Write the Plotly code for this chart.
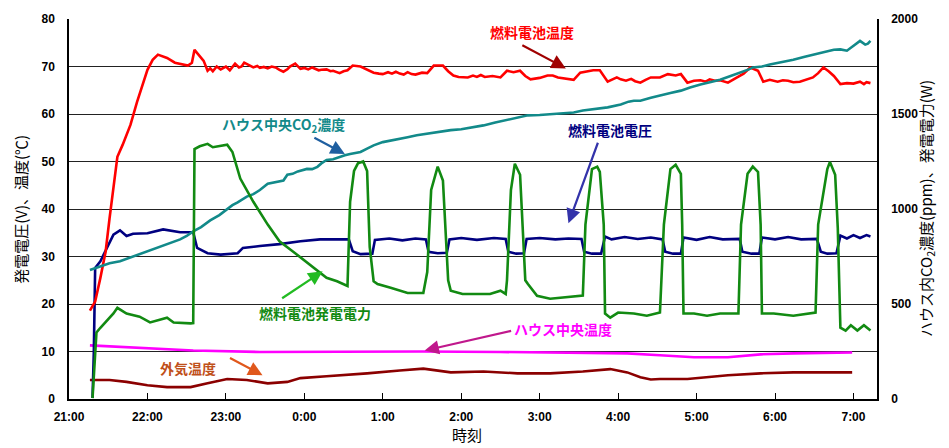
import plotly.graph_objects as go

# ---- measured data (clock time, value) ----
# Fuel-cell temperature (°C), left axis
fc_temp_t = ["21:16", "21:18", "21:20", "21:24", "21:28", "21:31", "21:34", "21:37", "21:41", "21:47",
             "21:52", "22:00", "22:04", "22:08", "22:15", "22:21", "22:31", "22:34", "22:36", "22:39",
             "22:43", "22:46", "22:48", "22:50", "22:53", "22:56", "23:00", "23:03", "23:07", "23:10",
             "23:12", "23:14", "23:17", "23:21", "23:24", "23:26", "23:29", "23:32", "23:35", "23:38",
             "23:41", "23:44", "23:47", "23:49", "23:53", "23:57", "0:00", "0:03", "0:06", "0:08",
             "0:11", "0:13", "0:17", "0:20", "0:22", "0:27", "0:30", "0:33", "0:37", "0:43",
             "0:48", "0:53", "0:57", "1:00", "1:04", "1:07", "1:10", "1:13", "1:16", "1:19",
             "1:22", "1:25", "1:30", "1:34", "1:39", "1:46", "1:50", "1:54", "1:58", "2:05",
             "2:09", "2:12", "2:15", "2:18", "2:24", "2:30", "2:35", "2:40", "2:45", "2:49",
             "2:53", "3:00", "3:06", "3:10", "3:14", "3:18", "3:26", "3:31", "3:36", "3:41",
             "3:46", "3:52", "3:59", "4:02", "4:06", "4:10", "4:13", "4:17", "4:21", "4:25",
             "4:32", "4:38", "4:44", "4:48", "4:53", "4:58", "5:03", "5:07", "5:10", "5:14",
             "5:18", "5:24", "5:31", "5:36", "5:41", "5:47", "5:51", "5:56", "6:02", "6:06",
             "6:10", "6:14", "6:19", "6:24", "6:29", "6:33", "6:37", "6:41", "6:45", "6:50",
             "6:55", "7:00", "7:05", "7:08", "7:10", "7:13"]
fc_temp_v = [18.6, 19.5, 20.5, 25.5, 31.0, 38.0, 45.0, 51.0, 53.5, 57.7,
             62.5, 69.3, 71.4, 72.5, 71.8, 70.8, 70.2, 70.8, 73.5, 72.4,
             71.2, 69.1, 69.6, 69.0, 70.0, 69.4, 70.0, 69.2, 70.6, 69.8,
             70.0, 70.8, 70.4, 69.8, 70.1, 69.7, 69.9, 69.6, 70.0, 69.8,
             69.3, 68.9, 69.4, 70.0, 70.6, 69.5, 69.7, 69.4, 69.8, 69.6,
             69.2, 69.3, 69.4, 69.0, 69.1, 68.6, 69.0, 69.2, 70.2, 70.0,
             69.3, 68.7, 68.5, 68.4, 68.8, 68.5, 68.9, 68.5, 68.3, 68.8,
             68.4, 68.3, 68.7, 68.6, 70.2, 70.2, 69.0, 68.1, 67.8, 67.7,
             68.1, 67.8, 68.2, 67.8, 68.0, 67.7, 69.1, 68.8, 69.1, 68.0,
             67.3, 67.6, 68.1, 68.1, 67.7, 67.5, 67.2, 68.7, 69.0, 69.2,
             69.2, 66.8, 67.7, 67.3, 67.0, 67.4, 66.9, 66.6, 67.2, 67.7,
             67.7, 68.4, 68.1, 68.4, 66.6, 67.0, 67.1, 66.8, 67.3, 67.0,
             67.1, 66.6, 67.7, 68.5, 69.8, 69.1, 66.8, 67.2, 66.8, 67.1,
             67.0, 66.7, 66.8, 67.3, 67.7, 68.6, 69.8, 69.0, 68.0, 66.3,
             66.5, 66.4, 66.8, 66.3, 66.7, 66.5]

# House-centre CO2 concentration (ppm), right axis
co2_t = ["21:16", "21:24", "21:31", "21:39", "21:47", "21:54", "22:02", "22:10", "22:18", "22:25",
         "22:30", "22:35", "22:41", "22:48", "22:55", "23:01", "23:05", "23:09", "23:16", "23:21",
         "23:26", "23:32", "23:38", "23:44", "23:47", "23:51", "23:55", "0:02", "0:06", "0:10",
         "0:13", "0:17", "0:22", "0:27", "0:31", "0:35", "0:43", "0:48", "0:53", "1:00",
         "1:05", "1:10", "1:14", "1:19", "1:26", "1:35", "1:44", "1:52", "2:00", "2:09",
         "2:17", "2:26", "2:35", "2:43", "2:51", "3:00", "3:06", "3:16", "3:26", "3:33",
         "3:41", "3:52", "4:02", "4:08", "4:12", "4:17", "4:25", "4:32", "4:40", "4:48",
         "4:55", "5:03", "5:10", "5:18", "5:26", "5:34", "5:40", "5:43", "5:50", "5:56",
         "6:05", "6:14", "6:22", "6:29", "6:37", "6:45", "6:50", "6:55", "7:00", "7:05",
         "7:09", "7:11", "7:13"]
co2_v = [679, 700, 715, 725, 745, 762, 785, 805, 822, 840,
         858, 882, 905, 940, 968, 1002, 1020, 1035, 1065, 1078,
         1100, 1133, 1140, 1150, 1180, 1185, 1198, 1211, 1210, 1222,
         1240, 1258, 1262, 1275, 1283, 1290, 1300, 1318, 1335, 1352,
         1358, 1365, 1372, 1378, 1388, 1398, 1405, 1415, 1420, 1430,
         1440, 1455, 1468, 1480, 1493, 1495, 1498, 1500, 1508, 1518,
         1525, 1535, 1550, 1565, 1570, 1570, 1585, 1598, 1610, 1623,
         1640, 1655, 1665, 1680, 1700, 1718, 1735, 1745, 1750, 1760,
         1772, 1785, 1800, 1813, 1825, 1838, 1840, 1833, 1860, 1885,
         1865, 1870, 1885]

# Fuel-cell voltage (V), left axis
fc_volt_t = ["21:18", "21:19", "21:20", "21:24", "21:29", "21:34", "21:39", "21:44", "21:49", "22:00",
             "22:12", "22:25", "22:35", "22:38", "22:46", "22:56", "23:09", "23:13", "23:26", "23:41",
             "23:57", "0:12", "0:25", "0:34", "0:37", "0:43", "0:52", "0:54", "1:05", "1:15",
             "1:25", "1:33", "1:35", "1:42", "1:49", "1:51", "2:00", "2:12", "2:25", "2:34",
             "2:36", "2:42", "2:48", "2:50", "3:00", "3:12", "3:22", "3:32", "3:34", "3:40",
             "3:47", "3:50", "3:55", "4:05", "4:15", "4:25", "4:34", "4:36", "4:42", "4:48",
             "4:50", "5:00", "5:10", "5:20", "5:33", "5:35", "5:42", "5:48", "5:50", "6:00",
             "6:10", "6:20", "6:32", "6:35", "6:40", "6:47", "6:50", "6:55", "7:00", "7:05",
             "7:10", "7:13"]
fc_volt_v = [0.2, 10.0, 27.6, 29.0, 31.8, 34.6, 35.5, 34.3, 34.8, 34.9,
             35.7, 35.1, 35.1, 31.8, 30.7, 30.4, 30.7, 31.8, 32.2, 32.6,
             33.2, 33.6, 33.6, 33.6, 31.1, 30.5, 30.6, 33.5, 33.8, 33.4,
             33.8, 33.6, 31.0, 30.7, 30.8, 33.6, 33.9, 33.5, 33.9, 33.7,
             31.0, 30.6, 30.7, 33.7, 33.9, 33.6, 33.8, 33.7, 31.0, 30.6,
             30.6, 34.2, 33.6, 34.1, 33.7, 34.0, 33.6, 31.0, 30.6, 30.6,
             34.0, 33.5, 34.1, 33.6, 33.7, 31.0, 30.6, 30.6, 34.0, 33.6,
             34.1, 33.6, 33.7, 31.0, 30.6, 30.7, 34.4, 33.8, 34.5, 33.9,
             34.5, 34.2]

# Fuel-cell output power (W), right axis
fc_power_t = ["21:18", "21:21", "21:24", "21:34", "21:37", "21:44", "21:54", "22:02", "22:15", "22:20",
              "22:33", "22:35", "22:36", "22:40", "22:46", "22:50", "23:01", "23:05", "23:11", "23:21",
              "23:32", "23:41", "23:51", "0:07", "0:17", "0:25", "0:33", "0:35", "0:38", "0:41",
              "0:45", "0:48", "0:50", "0:53", "0:56", "1:06", "1:19", "1:31", "1:34", "1:37",
              "1:42", "1:46", "1:50", "1:52", "2:01", "2:22", "2:30", "2:34", "2:35", "2:38",
              "2:41", "2:45", "2:49", "2:51", "2:58", "3:08", "3:20", "3:33", "3:35", "3:40",
              "3:44", "3:46", "3:49", "3:50", "3:54", "4:00", "4:12", "4:22", "4:32", "4:35",
              "4:40", "4:44", "4:48", "4:49", "4:50", "4:58", "5:08", "5:18", "5:32", "5:34",
              "5:39", "5:43", "5:47", "5:49", "5:50", "5:59", "6:14", "6:31", "6:33", "6:40",
              "6:42", "6:46", "6:48", "6:50", "6:54", "6:58", "7:03", "7:08", "7:13"]
fc_power_v = [5, 350, 375, 450, 480, 450, 433, 403, 428, 403,
              398, 400, 1315, 1330, 1343, 1325, 1338, 1300, 1160, 1038,
              918, 830, 778, 690, 638, 620, 595, 1038, 1200, 1240,
              1250, 1200, 800, 620, 605, 585, 558, 558, 668, 1100,
              1223, 1150, 625, 570, 553, 553, 570, 553, 625, 1100,
              1238, 1180, 625, 605, 543, 528, 535, 545, 918, 1210,
              1223, 1195, 918, 450, 428, 455, 450, 438, 455, 918,
              1210, 1233, 1185, 918, 450, 450, 438, 450, 450, 918,
              1185, 1223, 1195, 918, 450, 450, 438, 455, 918, 1210,
              1248, 1180, 900, 375, 360, 388, 360, 388, 360]

# House-centre temperature (°C), left axis
house_temp_t = ["21:16", "21:44", "22:15", "22:35", "23:26", "0:30", "1:30", "2:30", "3:16", "4:07",
                "4:32", "4:58", "5:24", "5:49", "6:14", "6:59"]
house_temp_v = [11.3, 10.9, 10.4, 10.2, 9.9, 10.0, 10.0, 9.9, 9.8, 9.6,
                9.2, 8.8, 8.8, 9.4, 9.6, 9.8]

# Outdoor temperature (°C), left axis
out_temp_t = ["21:16", "21:31", "21:44", "22:00", "22:15", "22:33", "22:46", "23:01", "23:16", "23:32",
              "23:47", "23:57", "0:17", "0:39", "0:48", "1:13", "1:31", "1:52", "2:17", "2:43",
              "3:08", "3:33", "3:54", "4:07", "4:17", "4:25", "4:32", "4:53", "5:08", "5:24",
              "5:49", "6:14", "6:59"]
out_temp_v = [4.0, 4.0, 3.6, 2.9, 2.5, 2.5, 3.3, 4.2, 4.0, 3.3,
              3.6, 4.4, 4.8, 5.2, 5.4, 6.0, 6.4, 5.6, 5.8, 5.4,
              5.4, 5.8, 6.3, 5.6, 4.6, 4.1, 4.2, 4.2, 4.6, 5.0,
              5.4, 5.6, 5.6]


def stamp(hhmm):
    """Clock time on the overnight run -> full timestamp (evening = day 1)."""
    h, m = hhmm.split(":")
    day = "2000-01-01" if int(h) >= 21 else "2000-01-02"
    return f"{day} {int(h):02d}:{m}"


def times(lst):
    return [stamp(t) for t in lst]


JP = "Noto Sans CJK JP"
NUM = "Liberation Sans, Arial, sans-serif"
LW = 2.6

fig = go.Figure()
fig.add_trace(go.Scatter(x=times(house_temp_t), y=house_temp_v, mode="lines",
                         line=dict(color="#ff00ff", width=LW), name="ハウス中央温度"))
fig.add_trace(go.Scatter(x=times(out_temp_t), y=out_temp_v, mode="lines",
                         line=dict(color="#8b0000", width=LW), name="外気温度"))
fig.add_trace(go.Scatter(x=times(fc_volt_t), y=fc_volt_v, mode="lines",
                         line=dict(color="#000080", width=LW), name="燃料電池電圧"))
fig.add_trace(go.Scatter(x=times(fc_temp_t), y=fc_temp_v, mode="lines",
                         line=dict(color="#ff0000", width=LW), name="燃料電池温度"))
fig.add_trace(go.Scatter(x=times(co2_t), y=co2_v, mode="lines", yaxis="y2",
                         line=dict(color="#128a8a", width=LW), name="ハウス中央CO2濃度"))
fig.add_trace(go.Scatter(x=times(fc_power_t), y=fc_power_v, mode="lines", yaxis="y2",
                         line=dict(color="#128a12", width=LW), name="燃料電池発電電力"))

# series labels with pointer arrows
labels = [
    ("燃料電池温度", "2:54", 77.3, "#ff0000"),
    ("ハウス中央CO<sub>2</sub>濃度", "23:44", 57.6, "#128a8a"),
    ("燃料電池電圧", "3:54", 56.6, "#000080"),
    ("燃料電池発電電力", "0:08", 18.2, "#128a12"),
    ("ハウス中央温度", "3:18", 14.8, "#ff00ff"),
    ("外気温度", "22:31", 6.5, "#c0501a"),
]
for text, t, y, c in labels:
    fig.add_annotation(x=stamp(t), y=y, xref="x", yref="y", text=text, showarrow=False,
                       xanchor="center", yanchor="middle",
                       font=dict(family=JP, size=14, color=c, weight="bold"))

arrows = [
    ("3:20", 69.6, -45, -24, "#a00000"),
    ("0:31", 51.6, -32, -17, "#1f5fa0"),
    ("3:22", 37.0, 30, -82, "#3333aa"),
    ("0:14", 26.9, -42, 28, "#22bb22"),
    ("1:32", 10.2, 88, -20, "#c0188c"),
    ("23:28", 5.0, -34, -18, "#e0581c"),
]
for t, y, ax, ay, c in arrows:
    fig.add_annotation(x=stamp(t), y=y, xref="x", yref="y", ax=ax, ay=ay, text="",
                       showarrow=True, arrowhead=2, arrowsize=1.3, arrowwidth=2.2, arrowcolor=c)

# axis titles
fig.add_annotation(x=-0.061, y=0.5, xref="paper", yref="paper", text="発電電圧(V)、温度(℃)",
                   textangle=-90, showarrow=False, xanchor="center", yanchor="middle",
                   font=dict(family=JP, size=15, color="#000"))
fig.add_annotation(x=1.0607, y=0.5, xref="paper", yref="paper",
                   text="ハウス内CO<sub>2</sub>濃度(ppm)、発電電力(W)",
                   textangle=-90, showarrow=False, xanchor="center", yanchor="middle",
                   font=dict(family=JP, size=15, color="#000"))
fig.add_annotation(x=0.493, y=-0.094, xref="paper", yref="paper", text="時刻",
                   showarrow=False, xanchor="center", yanchor="middle",
                   font=dict(family=JP, size=15, color="#000"))

fig.update_layout(
    width=949, height=448,
    margin=dict(l=69, r=72, t=16, b=49),
    paper_bgcolor="white", plot_bgcolor="white",
    showlegend=False,
    xaxis=dict(
        type="date",
        range=[stamp("21:00"), stamp("7:18")],
        tick0=stamp("21:00"), dtick=3600000, tickformat="%-H:%M",
        ticks="inside", ticklen=6, tickcolor="black", tickwidth=1.2,
        showgrid=False, zeroline=False,
        showline=True, linecolor="black", linewidth=1.5,
        tickfont=dict(family=NUM, size=12, color="black", weight="bold"),
        ticklabelstandoff=6,
    ),
    yaxis=dict(
        range=[0, 80], dtick=10,
        showgrid=True, gridcolor="#222", gridwidth=1,
        zeroline=False, showline=True, linecolor="black", linewidth=1.5,
        ticks="", tickfont=dict(family=NUM, size=12, color="black", weight="bold"),
        ticklabelstandoff=10,
    ),
    yaxis2=dict(
        range=[0, 2000], dtick=500, overlaying="y", side="right",
        showgrid=False, zeroline=False, showline=True, linecolor="black", linewidth=1.5,
        ticks="", tickfont=dict(family=NUM, size=12, color="black", weight="bold"),
        ticklabelstandoff=10,
    ),
)

fig.write_html("out.html")
